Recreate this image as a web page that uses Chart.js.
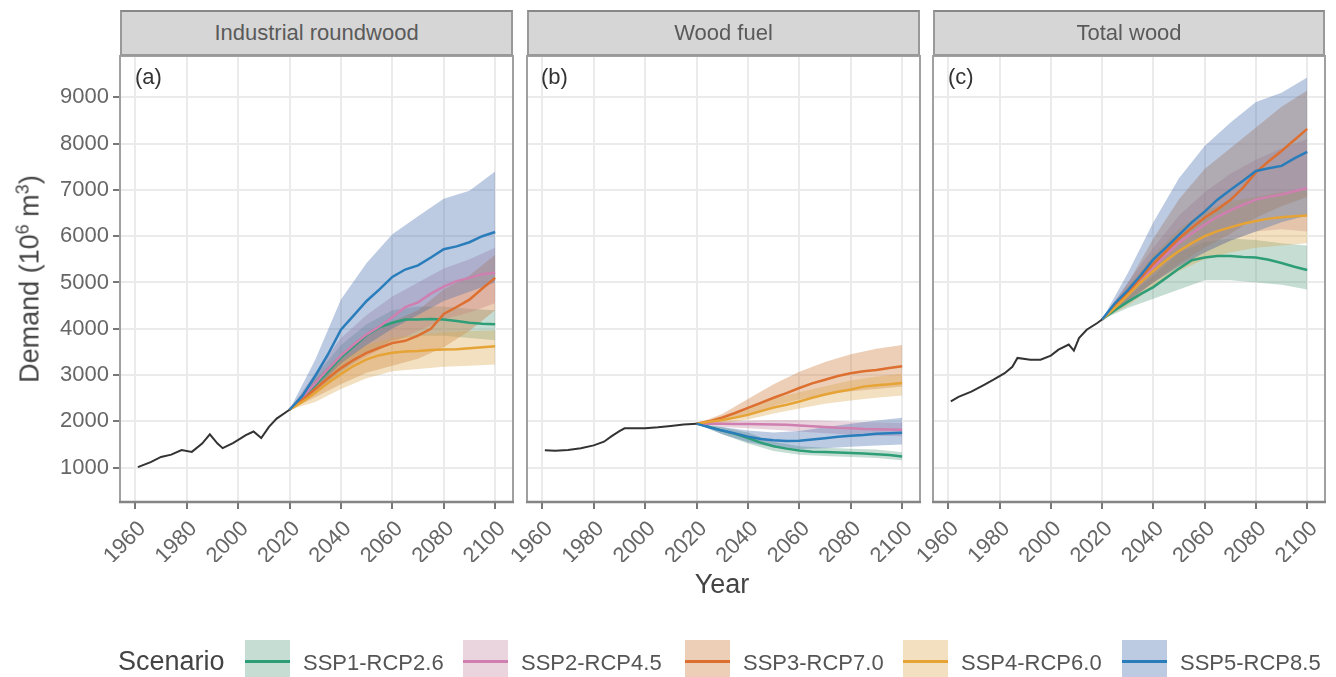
<!DOCTYPE html>
<html><head><meta charset="utf-8">
<script src="https://cdn.jsdelivr.net/npm/chart.js@4.4.1/dist/chart.umd.min.js"></script>
<style>
body{margin:0;background:#fff;width:1336px;height:677px;overflow:hidden;position:relative;font-family:'Liberation Sans',Arial,sans-serif;}
canvas{position:absolute;left:0;top:0;}
.strip{position:absolute;top:10px;height:46px;background:#d6d6d6;border:2px solid #999;border-top-color:#888;box-sizing:border-box;text-align:center;line-height:42px;font-size:22px;color:#5a5a5a;}
.plab{position:absolute;top:64px;font-size:22px;color:#333;}
.ytitle{position:absolute;left:30px;top:279px;transform:translate(-50%,-50%) rotate(-90deg);font-size:27px;color:#444;white-space:nowrap;}
.ytitle sup{font-size:18px;vertical-align:0.55em;line-height:0;}
.xtitle{position:absolute;left:722px;top:584px;transform:translate(-50%,-50%);font-size:27px;color:#444;}
.legtitle{position:absolute;left:118px;top:646px;font-size:27px;color:#444;}
.key{position:absolute;top:640px;width:45px;height:37px;}
.key i{position:absolute;left:0;right:0;top:20px;height:3px;}
.ltxt{position:absolute;top:650px;font-size:22px;color:#555;white-space:nowrap;}
</style></head>
<body>
<canvas id="c1" width="1336" height="677"></canvas>
<canvas id="c2" width="1336" height="677"></canvas>
<canvas id="c3" width="1336" height="677"></canvas>
<div class="strip" style="left:120px;width:393px">Industrial roundwood</div>
<div class="strip" style="left:527px;width:393px">Wood fuel</div>
<div class="strip" style="left:933px;width:392px">Total wood</div>
<div class="plab" style="left:135px">(a)</div>
<div class="plab" style="left:541px">(b)</div>
<div class="plab" style="left:948px">(c)</div>
<div class="ytitle">Demand (10<sup>6</sup> m<sup>3</sup>)</div>
<div class="xtitle">Year</div>
<div class="legtitle">Scenario</div>
<div id="legend"></div>
<script>
// ---- axis ticks ----
const xTicks = [1960,1980,2000,2020,2040,2060,2080,2100];
const yTicks = [1000,2000,3000,4000,5000,6000,7000,8000,9000];
const scenarios = ['SSP1-RCP2.6','SSP2-RCP4.5','SSP3-RCP7.0','SSP4-RCP6.0','SSP5-RCP8.5'];
const lineColors = ['#2e9e78','#cf7fb0','#dd6f30','#e6a336','#2a7dbb'];
const fillColors = ['rgba(92,158,129,0.35)','rgba(195,135,164,0.35)','rgba(204,118,52,0.35)','rgba(218,166,75,0.35)','rgba(64,106,172,0.35)'];

// ---- years ----
const projYears = [2020,2025,2030,2035,2040,2045,2050,2055,2060,2065,2070,2075,2080,2085,2090,2095,2100];
const bandYears = [2020,2030,2040,2050,2060,2070,2080,2090,2100];

// ---- historical ----
const histYearsIRW = [1961,1966,1970,1974,1978,1982,1986,1989,1992,1994,1998,2001,2003,2006,2009,2012,2015,2020];
const histIRW = [1010,1120,1230,1280,1380,1340,1520,1720,1520,1420,1530,1630,1700,1780,1640,1880,2060,2250];
const histYearsWF = [1961,1965,1970,1975,1980,1984,1987,1990,1992,1995,2000,2005,2010,2015,2020];
const histWF = [1375,1365,1380,1420,1480,1560,1680,1790,1850,1850,1850,1870,1900,1930,1950];
const histYearsTW = [1961,1964,1969,1974,1978,1982,1985,1987,1992,1996,2000,2003,2007,2009,2011,2014,2018,2020];
const histTW = [2430,2530,2640,2790,2910,3040,3180,3370,3330,3330,3420,3550,3660,3530,3800,3980,4120,4200];

// ---- Industrial roundwood ----
const irwSSP1 = [2250,2500,2780,3080,3380,3620,3860,4030,4130,4200,4200,4210,4200,4170,4130,4110,4100];
const irwSSP2 = [2250,2520,2820,3130,3420,3660,3880,4050,4250,4470,4570,4760,4910,5030,5100,5180,5210];
const irwSSP3 = [2250,2460,2700,2930,3150,3330,3480,3590,3690,3740,3850,4000,4320,4470,4630,4870,5100];
const irwSSP4 = [2250,2420,2620,2830,3020,3200,3340,3430,3480,3510,3520,3540,3550,3560,3580,3600,3620];
const irwSSP5 = [2250,2550,2980,3450,3980,4290,4600,4850,5120,5280,5370,5540,5720,5780,5870,6000,6090];
const irwSSP1Low = [2250,2620,3050,3480,3750,3850,3850,3800,3750];
const irwSSP1High = [2250,2980,3650,4100,4400,4480,4480,4430,4400];
const irwSSP2Low = [2250,2620,3100,3400,3700,3950,4200,4350,4550];
const irwSSP2High = [2250,3050,3800,4300,4700,5000,5300,5500,5750];
const irwSSP3Low = [2250,2520,2800,3050,3200,3350,3600,3950,4400];
const irwSSP3High = [2250,2900,3450,3850,4150,4400,4850,5150,5600];
const irwSSP4Low = [2250,2420,2700,2930,3080,3130,3180,3200,3230];
const irwSSP4High = [2250,2850,3330,3650,3800,3870,3920,3950,3970];
const irwSSP5Low = [2250,2700,3250,3650,4000,4300,4600,4800,5000];
const irwSSP5High = [2250,3330,4630,5420,6040,6430,6810,6980,7400];

// ---- Wood fuel ----
const wfSSP1 = [1950,1880,1800,1730,1640,1540,1460,1410,1370,1345,1335,1325,1315,1305,1290,1270,1240];
const wfSSP2 = [1950,1955,1950,1945,1940,1935,1930,1925,1910,1895,1880,1860,1850,1835,1830,1825,1820];
const wfSSP3 = [1950,2000,2080,2180,2290,2400,2510,2610,2720,2820,2900,2980,3040,3080,3110,3150,3190];
const wfSSP4 = [1950,1990,2030,2080,2140,2220,2300,2360,2430,2510,2580,2640,2690,2750,2780,2800,2830];
const wfSSP5 = [1950,1870,1800,1740,1670,1620,1590,1575,1580,1605,1635,1665,1690,1705,1730,1745,1755];
const wfSSP1Low = [1950,1720,1520,1360,1280,1250,1230,1210,1160];
const wfSSP1High = [1950,1870,1760,1560,1460,1430,1410,1390,1330];
const wfSSP2Low = [1950,1880,1850,1820,1780,1740,1710,1690,1680];
const wfSSP2High = [1950,2010,2020,2030,2030,2010,1990,1980,1970];
const wfSSP3Low = [1950,2010,2140,2330,2470,2580,2650,2700,2750];
const wfSSP3High = [1950,2160,2480,2800,3070,3280,3450,3570,3650];
const wfSSP4Low = [1950,1960,2040,2170,2280,2380,2450,2510,2560];
const wfSSP4High = [1950,2120,2300,2500,2630,2760,2880,2970,3030];
const wfSSP5Low = [1950,1720,1550,1440,1400,1420,1450,1480,1500];
const wfSSP5High = [1950,1880,1800,1760,1790,1870,1950,2020,2080];

// ---- Total wood ----
const twSSP1 = [4200,4400,4580,4750,4900,5100,5300,5480,5540,5570,5570,5550,5540,5490,5420,5340,5270];
const twSSP2 = [4200,4480,4750,5050,5330,5600,5860,6060,6250,6420,6560,6680,6790,6850,6900,6970,7040];
const twSSP3 = [4200,4500,4780,5100,5400,5680,5950,6180,6400,6580,6780,7050,7380,7620,7840,8080,8320];
const twSSP4 = [4200,4450,4720,5000,5250,5480,5680,5850,6000,6110,6190,6270,6330,6380,6410,6430,6450];
const twSSP5 = [4200,4550,4830,5150,5500,5760,6030,6300,6530,6790,7000,7200,7410,7470,7520,7680,7820];
const twSSP1Low = [4200,4450,4650,4850,5050,5050,5000,4950,4850];
const twSSP1High = [4200,4700,5150,5650,5880,5950,5920,5850,5800];
const twSSP2Low = [4200,4550,5000,5350,5650,5900,6100,6150,6100];
const twSSP2High = [4200,5000,5750,6450,6950,7350,7650,7900,8100];
const twSSP3Low = [4200,4600,5000,5400,5750,6050,6400,6650,6850];
const twSSP3High = [4200,4980,5950,6800,7450,7900,8350,8800,9150];
const twSSP4Low = [4200,4500,4900,5250,5500,5650,5750,5800,5850];
const twSSP4High = [4200,4900,5600,6150,6550,6750,6850,6950,7000];
const twSSP5Low = [4200,4600,5000,5350,5650,5900,6100,6300,6450];
const twSSP5High = [4200,5200,6300,7250,7950,8450,8900,9100,9430];

// ---- layout constants ----
const W = 1336, H = 677, TOP = 56, BOTTOM = 502, XAXIS_H = 60;
const X_MIN = 1954.05, X_MAX = 2106.95, Y_MIN = 257, Y_MAX = 9894;
const FONT = "'Liberation Sans', Arial, sans-serif";
Chart.defaults.font.family = FONT;

const pts = (xs, ys) => xs.map((x, i) => ({x, y: ys[i]}));

const framePlugin = {
  id: 'frame',
  afterDraw(chart) {
    const a = chart.chartArea, c = chart.ctx;
    c.save(); c.strokeStyle = '#a0a0a0'; c.lineWidth = 2;
    c.strokeRect(a.left, a.top, a.right - a.left, a.bottom - a.top);
    c.strokeStyle = '#858585'; c.lineWidth = 2.5;
    c.beginPath(); c.moveTo(a.left - 1, a.bottom); c.lineTo(a.right + 1, a.bottom); c.stroke();
    c.restore();
  }
};

function makePanel(id, left, right, showY, hx, hy, lines, lows, highs) {
  const datasets = [];
  datasets.push({data: pts(hx, hy), borderColor: '#333', borderWidth: 2, pointRadius: 0, fill: false, order: 0});
  for (let i = 0; i < 5; i++) {
    datasets.push({data: pts(projYears, lines[i]), borderColor: lineColors[i], borderWidth: 2.5, pointRadius: 0, fill: false, order: 1 + (4 - i) * 0.1});
  }
  for (let i = 0; i < 5; i++) {
    datasets.push({data: pts(bandYears, lows[i]), borderWidth: 0, borderColor: 'rgba(0,0,0,0)', pointRadius: 0, fill: false, order: 10 + (4 - i)});
    datasets.push({data: pts(bandYears, highs[i]), borderWidth: 0, borderColor: 'rgba(0,0,0,0)', pointRadius: 0, fill: '-1', backgroundColor: fillColors[i], order: 10 + (4 - i)});
  }
  new Chart(document.getElementById(id), {
    type: 'line',
    data: {datasets},
    plugins: [framePlugin],
    options: {
      responsive: false, animation: false, devicePixelRatio: 1, events: [],
      layout: {padding: {left: showY ? 0 : left, right: W - right, top: TOP, bottom: H - BOTTOM - XAXIS_H}},
      plugins: {legend: {display: false}, tooltip: {enabled: false}},
      scales: {
        x: {
          type: 'linear', min: X_MIN, max: X_MAX,
          afterBuildTicks: s => { s.ticks = xTicks.map(v => ({value: v})); },
          afterFit: s => { s.height = XAXIS_H; },
          ticks: {autoSkip: false, minRotation: 45, maxRotation: 45, padding: 7, labelOffset: 7, color: '#666', font: {size: 22}, callback: v => String(v)},
          grid: {color: '#ebebeb', lineWidth: 2, tickColor: '#777', tickLength: 7, tickWidth: 2},
          border: {display: false}
        },
        y: {
          type: 'linear', min: Y_MIN, max: Y_MAX,
          afterBuildTicks: s => { s.ticks = yTicks.map(v => ({value: v})); },
          afterFit: s => { s.width = showY ? left : 0; },
          ticks: {display: showY, padding: 4, color: '#666', font: {size: 22}, callback: v => String(v)},
          grid: {color: '#ebebeb', lineWidth: 2, tickColor: '#777', tickLength: 7, tickWidth: 2, drawTicks: showY},
          border: {display: false}
        }
      }
    }
  });
}

makePanel('c1', 120, 513, true, histYearsIRW, histIRW,
  [irwSSP1, irwSSP2, irwSSP3, irwSSP4, irwSSP5],
  [irwSSP1Low, irwSSP2Low, irwSSP3Low, irwSSP4Low, irwSSP5Low],
  [irwSSP1High, irwSSP2High, irwSSP3High, irwSSP4High, irwSSP5High]);
makePanel('c2', 527, 920, false, histYearsWF, histWF,
  [wfSSP1, wfSSP2, wfSSP3, wfSSP4, wfSSP5],
  [wfSSP1Low, wfSSP2Low, wfSSP3Low, wfSSP4Low, wfSSP5Low],
  [wfSSP1High, wfSSP2High, wfSSP3High, wfSSP4High, wfSSP5High]);
makePanel('c3', 933, 1325, false, histYearsTW, histTW,
  [twSSP1, twSSP2, twSSP3, twSSP4, twSSP5],
  [twSSP1Low, twSSP2Low, twSSP3Low, twSSP4Low, twSSP5Low],
  [twSSP1High, twSSP2High, twSSP3High, twSSP4High, twSSP5High]);

// ---- legend ----
const keyLeft = [245, 463, 685, 903, 1122];
const leg = document.getElementById('legend');
scenarios.forEach((s, i) => {
  const k = document.createElement('div');
  k.className = 'key'; k.style.left = keyLeft[i] + 'px'; k.style.background = fillColors[i];
  const ln = document.createElement('i'); ln.style.background = lineColors[i]; k.appendChild(ln);
  leg.appendChild(k);
  const t = document.createElement('div');
  t.className = 'ltxt'; t.style.left = (keyLeft[i] + 58) + 'px'; t.textContent = s;
  leg.appendChild(t);
});
</script>
</body></html>
